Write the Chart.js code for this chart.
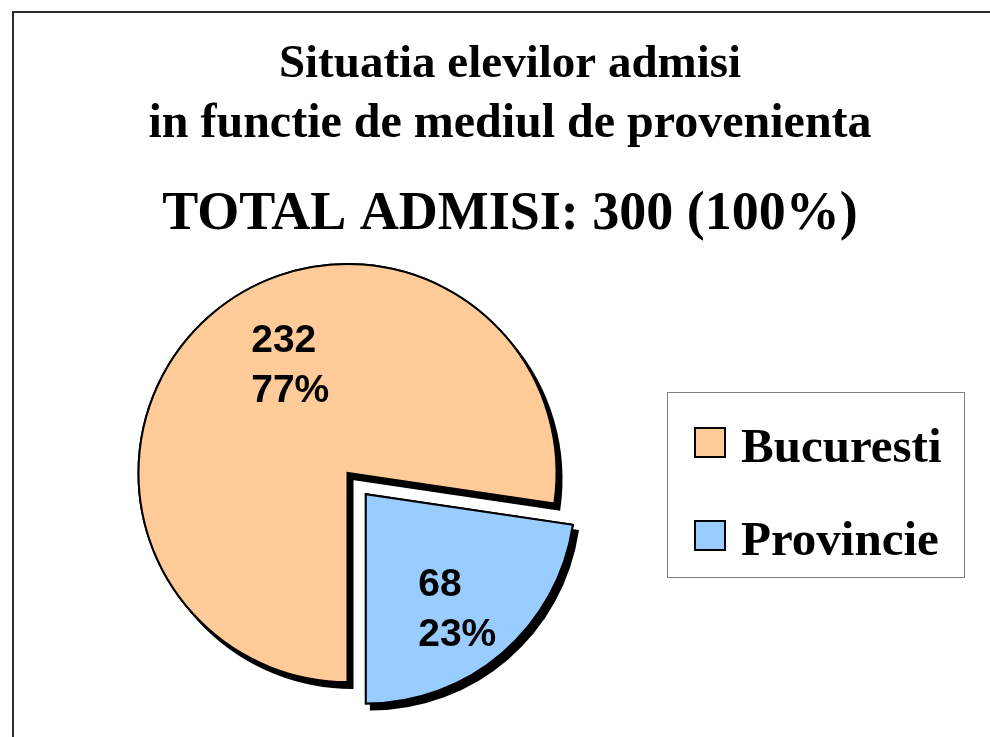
<!DOCTYPE html>
<html>
<head>
<meta charset="utf-8">
<title>Situatia elevilor admisi</title>
<script src="https://cdn.jsdelivr.net/npm/chart.js@4.4.0/dist/chart.umd.min.js"></script>
<style>
    html, body {
        margin: 0;
        padding: 0;
        width: 990px;
        height: 737px;
        overflow: hidden;
        background: #fff;
    }

    .frame {
        position: absolute;
        left: 12px;
        top: 11px;
        width: 1100px;
        height: 800px;
        border: 2px solid #2e2e2e;
    }

    #admisiChart {
        position: absolute;
        left: 0;
        top: 0;
    }

    #admisiLegend {
        position: absolute;
        left: 667px;
        top: 392px;
        width: 298px;
        height: 186px;
        box-sizing: border-box;
        border: 1.5px solid #808080;
        margin: 0;
        padding: 3px 0 0 0;
        list-style: none;
        background: #fff;
    }

    #admisiLegend li {
        display: flex;
        align-items: center;
        height: 93px;
        padding-left: 26px;
        font: bold 49px "Liberation Serif", "Times New Roman", serif;
        line-height: 1;
        color: #000;
    }

    #admisiLegend .indicator {
        width: 32px;
        height: 31px;
        box-sizing: border-box;
        border: 2px solid #000;
        margin-right: 15px;
    }

    #admisiLegend .labelText {
        position: relative;
        top: 3px;
    }
</style>
</head>
<body>
<div class="frame"></div>
<canvas id="admisiChart" width="990" height="737"></canvas>
<ul id="admisiLegend"></ul>

<script>
const categories = ["Bucuresti", "Provincie"];
const admisi = [232, 68];
const sliceColors = ["#FFCC99", "#99CCFF"];
const sliceOffsets = [0, 112];

const titleLines = ["Situatia elevilor admisi", "in functie de mediul de provenienta"];

const totalAdmisi = admisi.reduce((a, b) => a + b, 0);
const totalLine = "TOTAL ADMISI: " + totalAdmisi + " (100%)";

// Title block drawn straight on the canvas
const titleTextPlugin = {
    id: 'titleText',
    afterDraw(chart, args, options) {
        const { ctx } = chart;
        ctx.save();
        ctx.fillStyle = '#000';
        ctx.textAlign = 'center';
        ctx.textBaseline = 'alphabetic';

        ctx.font = 'bold 47px "Liberation Serif"';
        ctx.fillText(options.lines[0], options.x, 77);
        ctx.font = 'bold 48px "Liberation Serif"';
        ctx.fillText(options.lines[1], options.x, 137);

        ctx.font = 'bold 54px "Liberation Serif"';
        ctx.fillText(options.total, options.x, 229);
        ctx.restore();
    }
};

// Hard black drop shadow under every slice
const sliceShadowPlugin = {
    id: 'sliceShadow',
    beforeDatasetsDraw(chart, args, options) {
        const { ctx } = chart;
        ctx.save();
        ctx.shadowColor = options.color;
        ctx.shadowOffsetX = options.dx;
        ctx.shadowOffsetY = options.dy;
        ctx.shadowBlur = 0;
        chart.getDatasetMeta(0).data.forEach(arc => arc.draw(ctx));
        ctx.restore();
    }
};

// Value + percent written inside each slice
const sliceLabelPlugin = {
    id: 'sliceLabels',
    afterDatasetsDraw(chart, args, options) {
        const { ctx } = chart;
        const meta = chart.getDatasetMeta(0);
        const values = chart.data.datasets[0].data;
        const total = values.reduce((a, b) => a + b, 0);

        ctx.save();
        ctx.font = 'bold 39px "Liberation Sans"';
        ctx.fillStyle = '#000';
        ctx.textAlign = 'left';
        ctx.textBaseline = 'alphabetic';

        meta.data.forEach((arc, i) => {
            const { x, y, startAngle, endAngle, outerRadius, circumference } =
                arc.getProps(['x', 'y', 'startAngle', 'endAngle', 'outerRadius', 'circumference'], true);
            const mid = (startAngle + endAngle) / 2;
            const off = (arc.options.offset || 0) / 4;
            const push = off * (2 - Math.sin(Math.min(Math.PI, circumference)));
            const dist = push + outerRadius * options.ratio;
            const cx = x + Math.cos(mid) * dist + options.nudge[i][0];
            const cy = y + Math.sin(mid) * dist + options.nudge[i][1];

            const lines = [String(values[i]), Math.round(values[i] / total * 100) + '%'];
            const w = Math.max(...lines.map(t => ctx.measureText(t).width));
            lines.forEach((t, j) => {
                ctx.fillText(t, cx - w / 2, cy + (j - 0.5) * 50 + 14);
            });
        });
        ctx.restore();
    }
};

new Chart(document.getElementById("admisiChart"), {
    type: "pie",
    data: {
        labels: categories,
        datasets: [{
            data: admisi,
            backgroundColor: sliceColors,
            borderColor: "#000",
            borderWidth: 2,
            borderJoinStyle: "miter",
            offset: sliceOffsets,
            hoverOffset: 0,
            clip: false
        }]
    },
    options: {
        responsive: false,
        animation: false,
        events: [],
        rotation: 180,
        radius: 209,
        layout: {
            padding: { left: 60, right: 355, top: 220, bottom: 11 }
        },
        plugins: {
            legend: { display: false },
            tooltip: { enabled: false },
            titleText: {
                lines: titleLines,
                total: totalLine,
                x: 510
            },
            sliceShadow: {
                color: '#000',
                dx: 5,
                dy: 6
            },
            sliceLabels: {
                ratio: 0.69,
                nudge: [[37, -1], [-3, 3]]
            }
        }
    },
    plugins: [titleTextPlugin, sliceShadowPlugin, sliceLabelPlugin]
});

const legendList = document.getElementById("admisiLegend");

const populateLegend = () => {
    categories.forEach((l, i) => {
        const li = document.createElement("li");

        const indicator = document.createElement("span");
        indicator.className = "indicator";
        indicator.style.backgroundColor = sliceColors[i];

        const labelText = document.createElement("span");
        labelText.className = "labelText";
        labelText.textContent = l;

        li.appendChild(indicator);
        li.appendChild(labelText);
        legendList.appendChild(li);
    });
};

populateLegend();
</script>
</body>
</html>
